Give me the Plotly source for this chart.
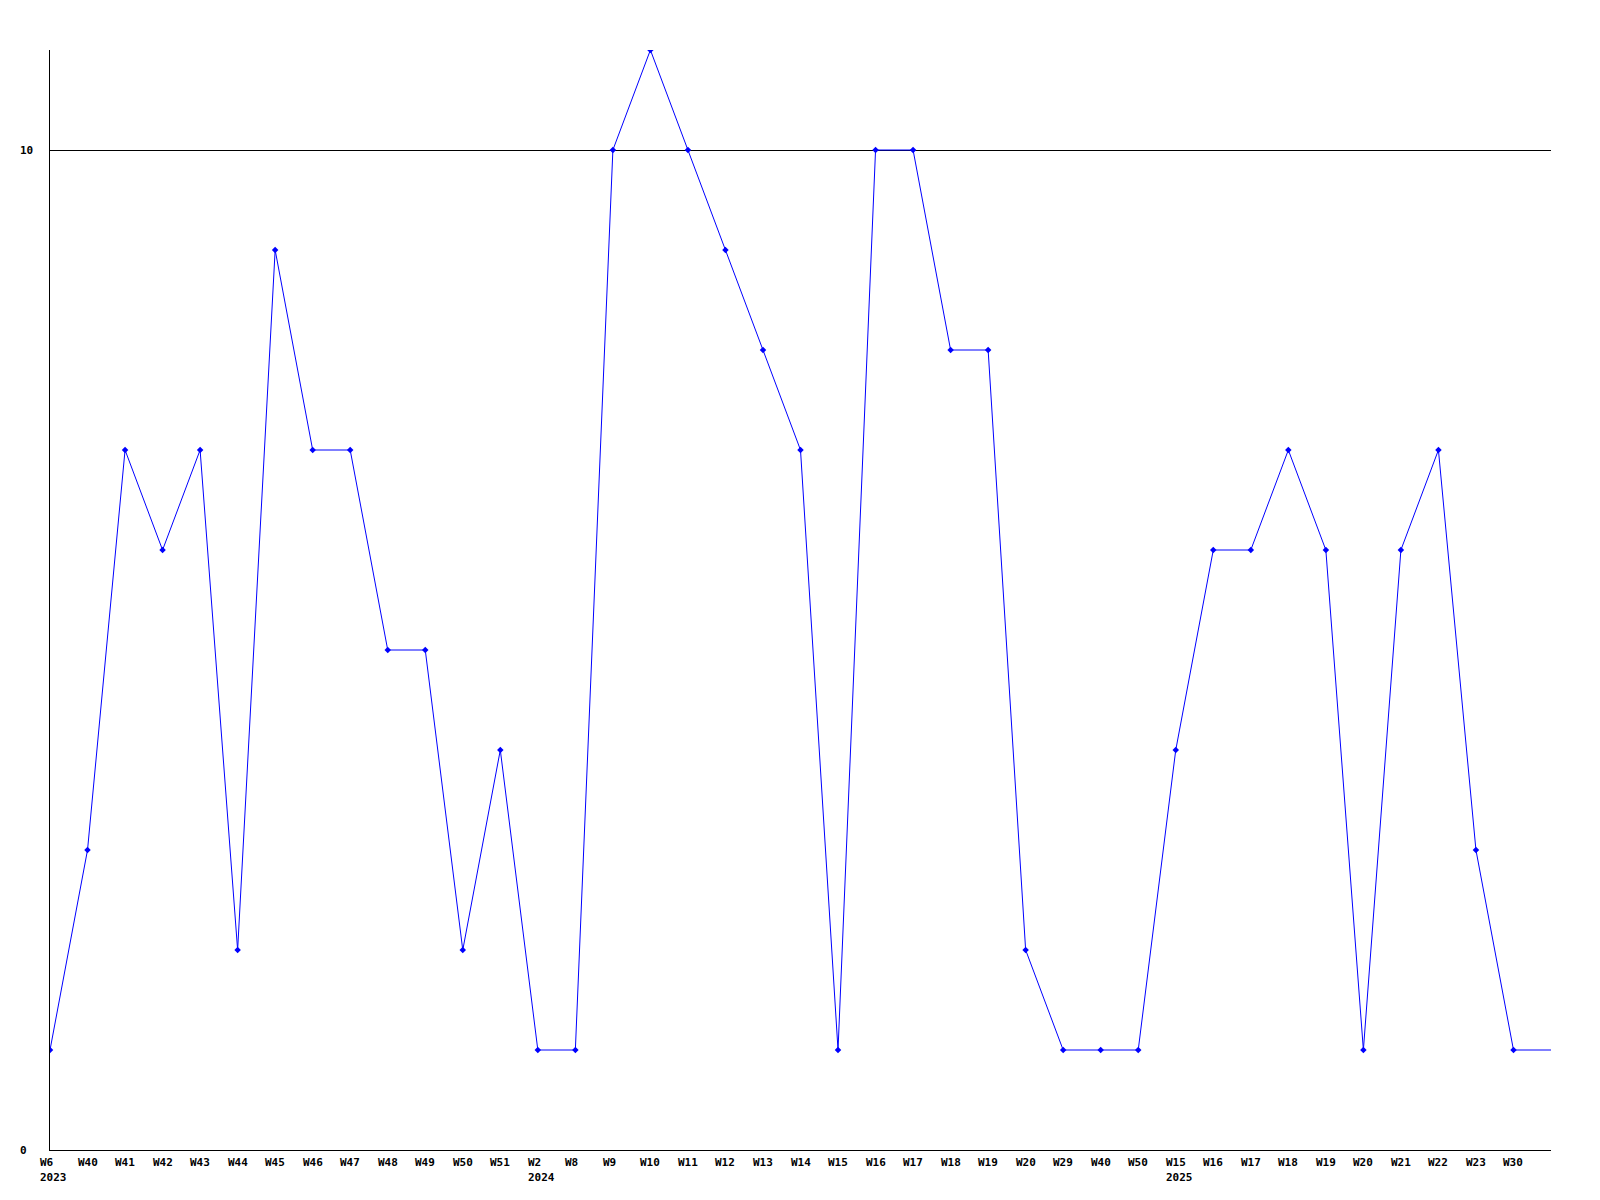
import plotly.graph_objects as go

week_labels = ["W6", "W40", "W41", "W42", "W43", "W44", "W45", "W46", "W47", "W48",
               "W49", "W50", "W51", "W2", "W8", "W9", "W10", "W11", "W12", "W13",
               "W14", "W15", "W16", "W17", "W18", "W19", "W20", "W29", "W40", "W50",
               "W15", "W16", "W17", "W18", "W19", "W20", "W21", "W22", "W23", "W30"]
year_labels = ["2023", "", "", "", "", "", "", "", "", "",
               "", "", "", "2024", "", "", "", "", "", "",
               "", "", "", "", "", "", "", "", "", "",
               "2025", "", "", "", "", "", "", "", "", ""]
values = [1, 3, 7, 6, 7, 2, 9, 7, 7, 5,
          5, 2, 4, 1, 1, 10, 11, 10, 9, 8,
          7, 1, 10, 10, 8, 8, 2, 1, 1, 1,
          4, 6, 6, 7, 6, 1, 6, 7, 3, 1]
y_ticks = [0, 10]

n = len(values)
xs = list(range(n))
FONT = "DejaVu Sans Mono"
BLUE = "#0000ff"

fig = go.Figure()
# continuation of the last value to the right edge of the plot
fig.add_trace(go.Scatter(x=[xs[-1], n], y=[values[-1], values[-1]], mode="lines",
                         line=dict(color=BLUE, width=1), hoverinfo="skip", showlegend=False))
fig.add_trace(go.Scatter(x=xs, y=values, mode="lines+markers",
                         line=dict(color=BLUE, width=1),
                         marker=dict(symbol="diamond", size=5, color=BLUE),
                         showlegend=False))

annotations = []
for i, (w, yr) in enumerate(zip(week_labels, year_labels)):
    annotations.append(dict(x=i, y=0, xref="x", yref="paper", text="<b>%s</b>" % w,
                            showarrow=False, xanchor="left", yanchor="middle",
                            xshift=-11, yshift=-12, borderpad=0,
                            font=dict(family=FONT, size=11, color="black")))
    if yr:
        annotations.append(dict(x=i, y=0, xref="x", yref="paper", text="<b>%s</b>" % yr,
                                showarrow=False, xanchor="left", yanchor="middle",
                                xshift=-11, yshift=-27, borderpad=0,
                                font=dict(family=FONT, size=11, color="black")))
for t in y_ticks:
    annotations.append(dict(x=0, y=t, xref="paper", yref="y", text="<b>%d</b>" % t,
                            showarrow=False, xanchor="left", yanchor="middle",
                            xshift=-31, borderpad=0,
                            font=dict(family=FONT, size=11, color="black")))

fig.update_layout(
    width=1584, height=1184,
    margin=dict(l=42, r=41, t=42, b=42),
    paper_bgcolor="white", plot_bgcolor="white",
    annotations=annotations,
    xaxis=dict(range=[0, n], showgrid=False, zeroline=False, showticklabels=False,
               ticks="", showline=True, linecolor="black", linewidth=1, fixedrange=True),
    yaxis=dict(range=[0, 11], tickvals=[v for v in y_ticks if v != 0], showticklabels=False,
               showgrid=True, gridcolor="black", gridwidth=1, zeroline=False, ticks="",
               showline=True, linecolor="black", linewidth=1, fixedrange=True),
)

fig.write_html("out.html")
